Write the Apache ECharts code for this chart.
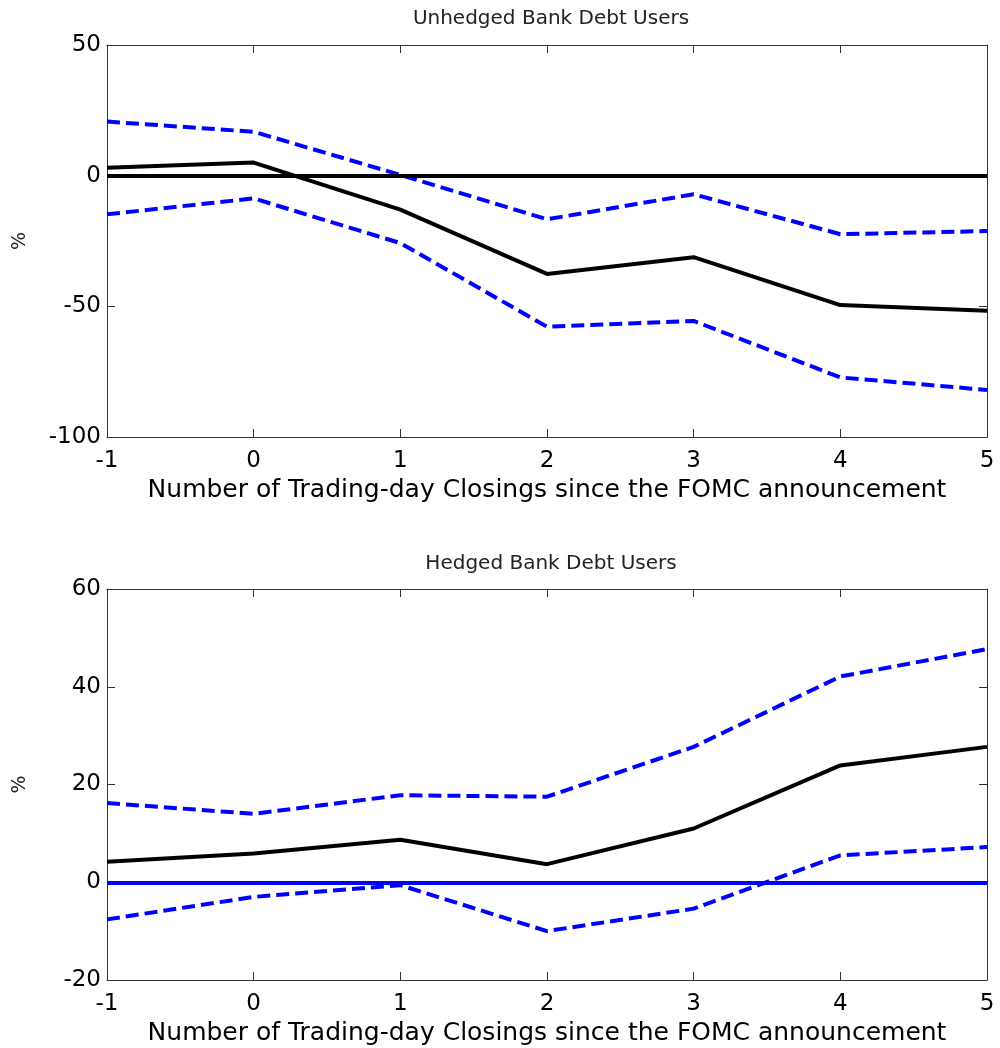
<!DOCTYPE html>
<html>
<head>
<meta charset="utf-8">
<script src="https://cdn.jsdelivr.net/npm/echarts@6/dist/echarts.min.js"></script>
<style>
html,body{margin:0;padding:0;background:#fff;}
#chart{width:1000px;height:1048px;}
</style>
</head>
<body>
<div id="chart"></div>
<script>
// Data
const days = [-1, 0, 1, 2, 3, 4, 5];
const xTicks = ['-1', '0', '1', '2', '3', '4', '5'];

const unhedgedEstimate = [3, 5, -13, -37.6, -31.2, -49.5, -51.7];
const unhedgedUpper = [20.7, 16.8, 0.3, -16.7, -7.1, -22.4, -21.2];
const unhedgedLower = [-14.8, -8.7, -25.8, -57.8, -55.6, -77.2, -82];

const hedgedEstimate = [4.2, 5.9, 8.7, 3.7, 11.0, 23.9, 27.7];
const hedgedUpper = [16.2, 14.0, 17.8, 17.5, 27.7, 42.1, 47.7];
const hedgedLower = [-7.6, -3.0, -0.6, -10.0, -5.4, 5.5, 7.2];

const titles = ['Unhedged Bank Debt Users', 'Hedged Bank Debt Users'];
const xLabel = 'Number of Trading-day Closings since the FOMC announcement';
const yLabel = '%';

const FONT = 'DejaVu Sans';
const pair = arr => days.map((d, i) => [d, arr[i]]);

const chart = echarts.init(document.getElementById('chart'), null, {renderer: 'canvas'});

const grids = [
  {left: 107, top: 45, width: 880, height: 392},
  {left: 107, top: 589, width: 880, height: 391}
];

function xAxes(gi) {
  const base = {
    type: 'value', min: -1, max: 5, interval: 1, gridIndex: gi,
    axisLine: {show: true, onZero: false, lineStyle: {color: '#333', width: 1}},
    axisTick: {show: true, inside: true, length: 8, lineStyle: {color: '#333'}},
    splitLine: {show: false}
  };
  return [
    Object.assign({}, base, {
      position: 'bottom',
      axisLabel: {color: '#000', fontSize: 23, fontFamily: FONT, margin: 13,
        formatter: v => xTicks[days.indexOf(v)]},
      name: xLabel, nameLocation: 'middle', nameGap: 41,
      nameTextStyle: {color: '#000', fontSize: 25, fontFamily: FONT}
    }),
    Object.assign({}, base, {position: 'top', axisLabel: {show: false}})
  ];
}

function yAxes(gi, min, max, interval) {
  const base = {
    type: 'value', min: min, max: max, interval: interval, gridIndex: gi,
    axisLine: {show: true, onZero: false, lineStyle: {color: '#333', width: 1}},
    axisTick: {show: true, inside: true, length: 8, lineStyle: {color: '#333'}},
    splitLine: {show: false}
  };
  return [
    Object.assign({}, base, {
      position: 'left',
      axisLabel: {color: '#000', fontSize: 23, fontFamily: FONT, margin: 6},
      name: yLabel, nameLocation: 'middle', nameGap: 77, nameRotate: 90,
      nameTextStyle: {color: '#222', fontSize: 19, fontFamily: FONT}
    }),
    Object.assign({}, base, {position: 'right', axisLabel: {show: false}})
  ];
}

const xA = [...xAxes(0), ...xAxes(1)];
const yA = [...yAxes(0, -100, 50, 50), ...yAxes(1, -20, 60, 20)];

function line(data, xi, yi, color, dashed, extra) {
  return Object.assign({
    type: 'line', xAxisIndex: xi, yAxisIndex: yi, data: pair(data),
    symbol: 'none', silent: true, animation: false,
    lineStyle: {color: color, width: 4, type: dashed ? [13, 6] : 'solid'}
  }, extra || {});
}

const zeroLine = (color) => ({
  silent: true, symbol: ['none', 'none'], label: {show: false},
  lineStyle: {color: color, width: 4, type: 'solid'},
  data: [{yAxis: 0}]
});

chart.setOption({
  animation: false,
  backgroundColor: '#fff',
  title: [
    {text: titles[0], left: 546, top: 4, textAlign: 'center',
     textStyle: {color: '#222', fontSize: 20, fontWeight: 'normal', fontFamily: FONT}},
    {text: titles[1], left: 546, top: 549, textAlign: 'center',
     textStyle: {color: '#222', fontSize: 20, fontWeight: 'normal', fontFamily: FONT}}
  ],
  grid: grids,
  xAxis: xA,
  yAxis: yA,
  series: [
    line(unhedgedEstimate, 0, 0, '#000', false, {markLine: zeroLine('#000')}),
    line(unhedgedUpper, 0, 0, '#0000ff', true),
    line(unhedgedLower, 0, 0, '#0000ff', true),
    line(hedgedEstimate, 2, 2, '#000', false, {markLine: zeroLine('#0000ff')}),
    line(hedgedUpper, 2, 2, '#0000ff', true),
    line(hedgedLower, 2, 2, '#0000ff', true)
  ]
});
</script>
</body>
</html>
